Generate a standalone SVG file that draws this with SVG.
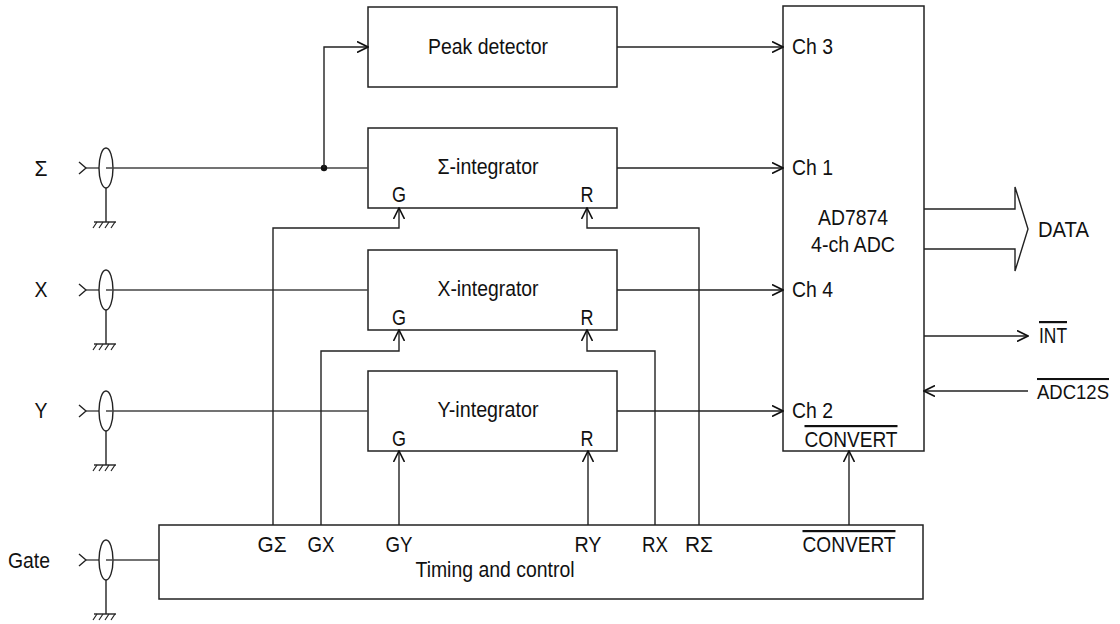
<svg xmlns="http://www.w3.org/2000/svg" width="1120" height="624" viewBox="0 0 1120 624">
<style>
  text { font-family: "Liberation Sans", Arial, sans-serif; font-size: 22px; fill: #111; }
  .m { text-anchor: middle; }
  .ov { text-decoration: overline; }
  .box { fill: #fff; stroke: #222; stroke-width: 1.5; }
  .ln { fill: none; stroke: #444; stroke-width: 1.4; }
  .ar { fill: none; stroke: #222; stroke-width: 1.4; marker-end: url(#arr); }
</style>
<defs>
  <marker id="arr" viewBox="0 0 12 12" refX="11" refY="6" markerWidth="12" markerHeight="12" markerUnits="userSpaceOnUse" orient="auto">
    <path d="M0,0.5 L11,6 L0,11.5" fill="none" stroke="#111" stroke-width="1.6"/>
  </marker>
  <g id="coax">
    <path d="M79,-6 L86,0 L79,6" fill="none" stroke="#222" stroke-width="1.4"/>
    <line x1="86" y1="0" x2="99" y2="0" stroke="#444" stroke-width="1.4"/>
    <ellipse cx="106" cy="0" rx="7" ry="20" fill="none" stroke="#222" stroke-width="1.4"/>
    <line x1="106" y1="20" x2="106" y2="54" stroke="#222" stroke-width="1.4"/>
    <line x1="94" y1="54" x2="116" y2="54" stroke="#222" stroke-width="1.4"/>
    <path d="M97,54 L93,60 M103,54 L99,60 M109,54 L105,60 M115,54 L111,60" fill="none" stroke="#222" stroke-width="1.2"/>
  </g>
</defs>
<rect width="1120" height="624" fill="#fff"/>

<g id="in-sigma"><use href="#coax" transform="translate(0,168)"/><text x="41" y="176" class="m" textLength="13" lengthAdjust="spacingAndGlyphs">Σ</text></g>
<g id="in-x"><use href="#coax" transform="translate(0,290)"/><text x="41" y="297" class="m" textLength="13" lengthAdjust="spacingAndGlyphs">X</text></g>
<g id="in-y"><use href="#coax" transform="translate(0,411)"/><text x="41" y="418" class="m" textLength="13" lengthAdjust="spacingAndGlyphs">Y</text></g>
<g id="in-gate"><use href="#coax" transform="translate(0,560)"/><text x="29" y="568" class="m" textLength="42" lengthAdjust="spacingAndGlyphs">Gate</text></g>

<g id="peak">
  <rect class="box" x="368" y="7" width="249" height="80"/>
  <text x="488" y="54" class="m" textLength="120" lengthAdjust="spacingAndGlyphs">Peak detector</text>
</g>
<g id="sigma-int">
  <rect class="box" x="368" y="128" width="249" height="80"/>
  <text x="488" y="174" class="m" textLength="101" lengthAdjust="spacingAndGlyphs">Σ-integrator</text>
  <text x="399" y="202" class="m" textLength="14" lengthAdjust="spacingAndGlyphs">G</text>
  <text x="587" y="202" class="m" textLength="13" lengthAdjust="spacingAndGlyphs">R</text>
</g>
<g id="x-int">
  <rect class="box" x="368" y="250" width="249" height="80"/>
  <text x="488" y="296" class="m" textLength="101" lengthAdjust="spacingAndGlyphs">X-integrator</text>
  <text x="399" y="325" class="m" textLength="14" lengthAdjust="spacingAndGlyphs">G</text>
  <text x="587" y="325" class="m" textLength="13" lengthAdjust="spacingAndGlyphs">R</text>
</g>
<g id="y-int">
  <rect class="box" x="368" y="371" width="249" height="80"/>
  <text x="488" y="417" class="m" textLength="101" lengthAdjust="spacingAndGlyphs">Y-integrator</text>
  <text x="399" y="446" class="m" textLength="14" lengthAdjust="spacingAndGlyphs">G</text>
  <text x="587" y="446" class="m" textLength="13" lengthAdjust="spacingAndGlyphs">R</text>
</g>
<g id="adc">
  <rect class="box" x="783" y="6" width="141" height="445"/>
  <text x="792" y="54" textLength="41" lengthAdjust="spacingAndGlyphs">Ch 3</text>
  <text x="792" y="175" textLength="41" lengthAdjust="spacingAndGlyphs">Ch 1</text>
  <text x="792" y="297" textLength="41" lengthAdjust="spacingAndGlyphs">Ch 4</text>
  <text x="792" y="418" textLength="41" lengthAdjust="spacingAndGlyphs">Ch 2</text>
  <text x="853" y="225" class="m" textLength="70" lengthAdjust="spacingAndGlyphs">AD7874</text>
  <text x="853" y="252" class="m" textLength="84" lengthAdjust="spacingAndGlyphs">4-ch ADC</text>
  <text x="851" y="447" class="m ov" textLength="93" lengthAdjust="spacingAndGlyphs">CONVERT</text>
</g>
<g id="timing">
  <rect class="box" x="159" y="525" width="764" height="74"/>
  <text x="272" y="552" class="m" textLength="29" lengthAdjust="spacingAndGlyphs">GΣ</text>
  <text x="321" y="552" class="m" textLength="27" lengthAdjust="spacingAndGlyphs">GX</text>
  <text x="399" y="552" class="m" textLength="27" lengthAdjust="spacingAndGlyphs">GY</text>
  <text x="588" y="552" class="m" textLength="27" lengthAdjust="spacingAndGlyphs">RY</text>
  <text x="655" y="552" class="m" textLength="26" lengthAdjust="spacingAndGlyphs">RX</text>
  <text x="699" y="552" class="m" textLength="28" lengthAdjust="spacingAndGlyphs">RΣ</text>
  <text x="849" y="552" class="m ov" textLength="93" lengthAdjust="spacingAndGlyphs">CONVERT</text>
  <text x="495" y="577" class="m" textLength="159" lengthAdjust="spacingAndGlyphs">Timing and control</text>
</g>
<g id="outputs">
  <text x="1038" y="237" textLength="51" lengthAdjust="spacingAndGlyphs">DATA</text>
  <text x="1039" y="343" class="ov" textLength="28" lengthAdjust="spacingAndGlyphs">INT</text>
  <text x="1037" y="399" class="ov" style="font-size:20.5px" textLength="72" lengthAdjust="spacingAndGlyphs">ADC12S</text>
</g>

<g id="connectors">
  <path class="ln" d="M106,168 H368"/>
  <path class="ln" d="M106,290 H368"/>
  <path class="ln" d="M106,411 H368"/>
  <path class="ln" d="M106,560 H159"/>
  <circle cx="324" cy="168" r="3.2" fill="#111"/>
  <path class="ar" d="M324,168 V47 H368"/>
  <path class="ar" d="M617,47 H783"/>
  <path class="ar" d="M617,168 H783"/>
  <path class="ar" d="M617,290 H783"/>
  <path class="ar" d="M617,411 H783"/>
  <path class="ar" d="M273,525 V228 H399 V208"/>
  <path class="ar" d="M699,525 V228 H587 V208"/>
  <path class="ar" d="M321,525 V351 H399 V330"/>
  <path class="ar" d="M655,525 V351 H587 V330"/>
  <path class="ar" d="M399,525 V451"/>
  <path class="ar" d="M588,525 V451"/>
  <path class="ar" d="M849,525 V451"/>
  <path class="ar" d="M924,336 H1028"/>
  <path class="ar" d="M1028,391 H924"/>
  <path fill="none" stroke="#222" stroke-width="1.4" d="M924,209 H1015 V187 L1028,229 L1015,271 V249 H924"/>
</g>
</svg>
